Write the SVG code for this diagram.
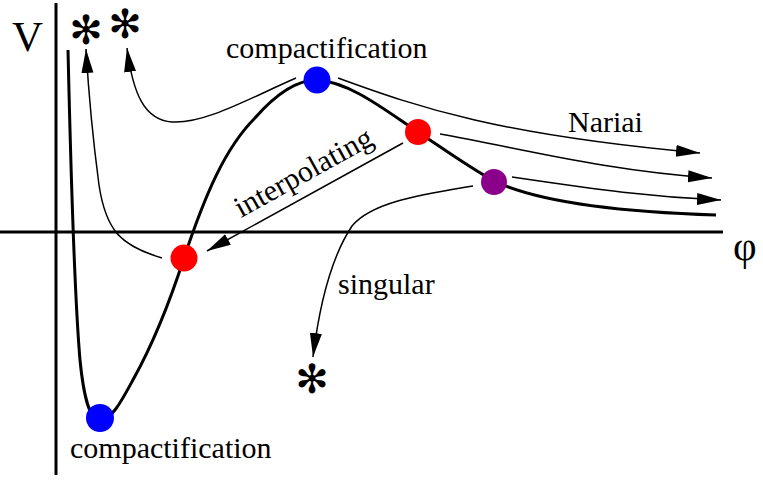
<svg xmlns="http://www.w3.org/2000/svg" width="763" height="481" viewBox="0 0 763 481">
<style>
.t{font-family:"Liberation Serif","Times New Roman",serif;font-size:30px;fill:#000}
.ax{stroke:#000;stroke-width:3;fill:none}
.pot{stroke:#000;stroke-width:3;fill:none}
.ar{stroke:#000;stroke-width:1.5;fill:none;marker-end:url(#ah)}
.st{font-family:"DejaVu Sans",sans-serif;font-size:40px;fill:#000;text-anchor:middle}
</style>
<defs>
<marker id="ah" markerUnits="userSpaceOnUse" markerWidth="26" markerHeight="13" refX="24" refY="6" orient="auto">
<path d="M0,0 L24,6 L0,12 z" fill="#000"/>
</marker>
</defs>
<rect width="763" height="481" fill="#fff"/>
<g id="axes">
<line class="ax" x1="56" y1="3" x2="56" y2="475"/>
<line class="ax" x1="0" y1="232" x2="723" y2="232"/>
<text class="t" x="12" y="51" style="font-size:43px">V</text>
<text class="t" x="733" y="260" style="font-size:41px">φ</text>
</g>
<g id="potential">
<path class="pot" d="M68,50 C71,180 74,290 80,360 C84,400 90,420 100,420 C112,420 122,400 134,378 C155,340 172,295 184,258 C205,195 225,148 255,118 C275,95 295,80 317,80 C350,82 385,110 418,132 C445,150 470,168 494,181 C540,203 620,212 716,215"/>
</g>
<g id="connectors">
<path class="ar" d="M296,78 C250,98 205,124 172,122 C145,120 133,95 127,48"/>
<path class="ar" d="M162,258 C122,246 106,232 99,185 C93,140 89,100 86,49"/>
<path class="ar" d="M338,78 C420,108 500,135 700,153"/>
<path class="ar" d="M440,134 C520,148 600,170 712,178"/>
<path class="ar" d="M512,177 C600,190 650,197 721,200"/>
<path class="ar" d="M403,143 L207,251"/>
<path class="ar" d="M473,186 C420,195 372,202 352,226 C332,256 320,300 313,357"/>
</g>
<g id="n-compact-top">
<circle cx="317" cy="80" r="13.5" fill="#0000ff"/>
<text class="t" x="226" y="58">compactification</text>
</g>
<g id="n-nariai">
<circle cx="418" cy="132" r="13" fill="#ff0000"/>
<text class="t" x="568" y="132">Nariai</text>
</g>
<g id="n-singular">
<circle cx="494" cy="182" r="13" fill="#8b008b"/>
<text class="t" x="338" y="294">singular</text>
</g>
<g id="n-interp">
<circle cx="184" cy="258" r="13.5" fill="#ff0000"/>
<text class="t" x="241" y="218" transform="rotate(-29 241 218)">interpolating</text>
</g>
<g id="n-compact-bottom">
<circle cx="100" cy="418" r="14" fill="#0000ff"/>
<text class="t" x="70" y="458">compactification</text>
</g>
<g id="stars">
<text class="st" x="86" y="44">✻</text>
<text class="st" x="125" y="38">✻</text>
<text class="st" x="312" y="393">✻</text>
</g>
</svg>
